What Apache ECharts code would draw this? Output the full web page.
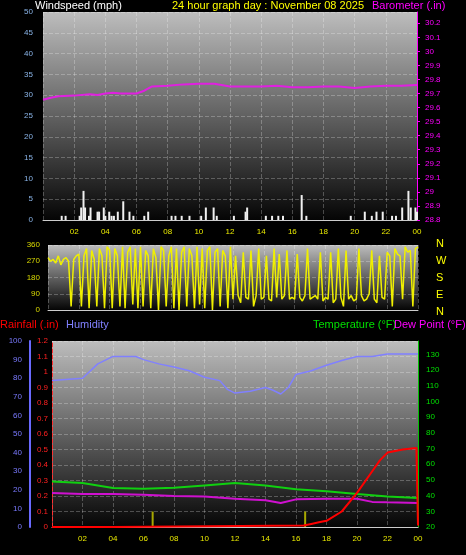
<!DOCTYPE html>
<html><head><meta charset="utf-8">
<script src="https://cdn.jsdelivr.net/npm/echarts@6/dist/echarts.min.js"></script>
<style>html,body{margin:0;padding:0;background:#000}#c{width:466px;height:555px}</style>
</head><body><div id="c"></div>
<script>
const hourTicks = ['02','04','06','08','10','12','14','16','18','20','22','00'];
const windSpeed = [[1.2,1],[1.45,1],[2.35,1],[2.45,3],[2.6,7],[2.7,3],[2.95,1],[3.05,3],[3.5,2],[3.6,2],[3.9,3],[4.0,1],[4.25,2],[4.4,1],[4.55,1],[4.8,2],[5.15,4.5],[5.55,2],[5.8,1],[6.5,1],[6.75,2],[8.25,1],[8.5,1],[8.9,1],[9.4,1],[10.15,1],[10.45,3],[10.95,3],[11.15,1],[12.25,1],[13.0,2],[13.1,3],[14.3,1],[14.7,1],[15.1,1],[15.4,1],[16.6,6],[16.9,1],[19.75,1],[20.65,2],[21.1,1],[21.4,2],[21.8,2],[22.4,1],[22.65,1],[23.05,3],[23.45,7],[23.6,3],[23.9,3],[24,2]];
const baroHours = [0,0.5,1,2,3,3.5,4,4.5,5,6,6.5,7,8,9,10,11,12,13,14,15,16,17,18,19,20,21,22,23,24];
const baroValues = [29.655,29.67,29.68,29.685,29.695,29.69,29.70,29.705,29.70,29.70,29.72,29.75,29.755,29.765,29.77,29.77,29.75,29.75,29.75,29.755,29.745,29.745,29.75,29.75,29.74,29.75,29.755,29.755,29.76];
const windDir = [290,270,280,260,300,250,280,290,270,20,280,300,
310,20,300,340,10,330,280,20,340,300,10,350,
330,10,340,300,20,350,10,320,350,30,340,10,
350,20,330,300,10,340,290,0,350,330,20,300,
350,10,340,0,320,350,20,340,300,10,350,30,
340,10,330,350,0,320,340,20,330,300,10,350,
60,300,80,40,320,70,60,330,20,80,340,60,
70,300,60,50,340,70,310,60,80,330,60,70,
60,310,70,50,80,340,60,70,80,60,320,50,
70,60,320,40,60,340,70,20,330,60,80,50,
60,340,80,50,60,90,330,60,40,300,70,60,
320,300,20,340,310,300,60,350,320,330,20,340,350];
const humHours = [0,2,3,4,5.5,6,7,8,9,10,11,11.5,12,13,14,14.5,15,15.5,16,17,18,19,20,21,22,24];
const humValues = [78.7,80,87.7,91.7,91.7,90,87.7,86,84,80.5,78.7,74,72,73,75,73.5,71.5,75,82,84,87,89.5,91.7,91.7,93,93];
const tHours = [0,2,4,6,8,10,12,14,16,18,20,22,24];
const tempValues = [49,48,44.8,44.4,45,46.5,48,46.5,44,42.7,41,39.5,38.4];
const dewHours = [0,2,4,6,8,10,12,14,15,16,18,20,21,22,24];
const dewValues = [41.6,41,41,40.5,39.7,39.5,38,37,35.3,37.6,38,38,36,35.7,35.3];
const rainHours = [0,4,4.01,16.5,17,17.5,18,19,20,21,21.5,22,23,23.9,24];
const rainValues = [0,0,0.01,0.01,0.02,0.03,0.04,0.1,0.22,0.36,0.43,0.48,0.5,0.51,0.01];
const rainRate = [[6.6,0.1],[16.6,0.1]];
const dirLabels = ['N','W','S','E','N'];

const z = (a,b)=>a.map((h,i)=>[h,b[i]]);
const windDirData = windDir.map((v,i)=>[i/6,v]);
const bg = ()=>new echarts.graphic.LinearGradient(0,0,0,1,[{offset:0,color:'#bdbdbd'},{offset:1,color:'#050505'}]);
const FF = 'Liberation Sans';
const xlab = {color:'#e8e800',fontSize:8,fontFamily:FF,formatter:v=>v===0?'':String(v%24).padStart(2,'0')};
const split = {show:true,lineStyle:{color:'rgba(255,255,255,0.25)',type:'dashed'}};
function xa(g,showLab){return {type:'value',gridIndex:g,min:0,max:24,interval:2,axisLabel:showLab?xlab:{show:false},axisLine:{show:true,lineStyle:{color:'#ccc'}},axisTick:{show:false},splitLine:split};}
const f = {fontFamily:FF,fontSize:8};
const chart = echarts.init(document.getElementById('c'));
chart.setOption({
  backgroundColor:'#000', animation:false,
  grid:[
    {left:43,right:49,top:12,height:208,show:true,backgroundColor:bg(),borderWidth:0},
    {left:48,right:48,top:245,height:65,show:true,backgroundColor:bg(),borderWidth:0},
    {left:52,right:48,top:341,height:186,show:true,backgroundColor:bg(),borderWidth:0}
  ],
  xAxis:[xa(0,true),xa(1,false),xa(2,true)],
  yAxis:[
    {type:'value',gridIndex:0,min:0,max:50,interval:5,axisLabel:Object.assign({color:'#8ab4e8',margin:10},f),axisLine:{show:false},axisTick:{show:false},splitLine:split},
    {type:'value',gridIndex:0,position:'right',min:28.8,max:30.28,interval:0.1,axisLabel:Object.assign({color:'#ff00ff',showMaxLabel:false,formatter:v=>String(+v.toFixed(1))},f),axisLine:{show:true,lineStyle:{color:'#ff00ff'}},axisTick:{show:true,length:3,lineStyle:{color:'#ff00ff'}},splitLine:{show:false}},
    {type:'value',gridIndex:1,min:0,max:360,interval:90,axisLabel:Object.assign({color:'#d8d800',margin:8},f),axisLine:{show:false},axisTick:{show:false},splitLine:split},
    {type:'value',gridIndex:2,min:0,max:1.2,interval:0.1,axisLabel:Object.assign({color:'#ff2020',margin:4,formatter:v=>String(+v.toFixed(1))},f),axisLine:{show:true,lineStyle:{color:'#ff3030',type:'dashed'}},axisTick:{show:false},splitLine:split},
    {type:'value',gridIndex:2,position:'left',offset:22,min:0,max:100,interval:10,axisLabel:Object.assign({color:'#7a7aff',margin:8},f),axisLine:{show:true,lineStyle:{color:'#6a6aff',width:2}},axisTick:{show:false},splitLine:{show:false}},
    {type:'value',gridIndex:2,position:'right',min:20,max:138.5,interval:10,axisLabel:Object.assign({color:'#00e000',showMaxLabel:false},f),axisLine:{show:true,lineStyle:{color:'#00c000'}},axisTick:{show:false},splitLine:{show:false}}
  ],
  series:[
    {type:'bar',xAxisIndex:0,yAxisIndex:0,data:windSpeed,barWidth:2,itemStyle:{color:'#f0f0f0'}},
    {type:'line',xAxisIndex:0,yAxisIndex:1,data:z(baroHours,baroValues),showSymbol:false,lineStyle:{color:'#e020e0',width:2}},
    {type:'line',xAxisIndex:1,yAxisIndex:2,data:windDirData,showSymbol:false,lineStyle:{color:'#f0f000',width:1.5}},
    {type:'line',xAxisIndex:2,yAxisIndex:4,data:z(humHours,humValues),showSymbol:false,lineStyle:{color:'#8080ff',width:1.5}},
    {type:'line',xAxisIndex:2,yAxisIndex:5,data:z(tHours,tempValues),showSymbol:false,lineStyle:{color:'#10d010',width:2}},
    {type:'line',xAxisIndex:2,yAxisIndex:5,data:z(dewHours,dewValues),showSymbol:false,lineStyle:{color:'#d010d0',width:2}},
    {type:'bar',xAxisIndex:2,yAxisIndex:3,data:rainRate,barWidth:2,itemStyle:{color:'#a8a800'}},
    {type:'line',xAxisIndex:2,yAxisIndex:3,data:z(rainHours,rainValues),showSymbol:false,lineStyle:{color:'#ff0000',width:2}}
  ],
  graphic:[
    {type:'text',left:35,top:0,style:{text:'Windspeed (mph)',fill:'#fff',font:'11px '+FF}},
    {type:'text',left:172,top:0,style:{text:'24 hour graph day : November 08 2025',fill:'#ffff00',font:'11px '+FF}},
    {type:'text',left:372,top:0,style:{text:'Barometer (.in)',fill:'#ff00ff',font:'11px '+FF}},
    {type:'text',left:0,top:319,style:{text:'Rainfall (.in)',fill:'#ff0000',font:'11px '+FF}},
    {type:'text',left:66,top:319,style:{text:'Humidity',fill:'#8080ff',font:'11px '+FF}},
    {type:'text',left:313,top:319,style:{text:'Temperature (°F)',fill:'#00e000',font:'11px '+FF}},
    {type:'text',left:394,top:319,style:{text:'Dew Point (°F)',fill:'#ff00ff',font:'11px '+FF}}
  ].concat(dirLabels.map((t,i)=>({type:'text',left:436,top:238+i*17,style:{text:t,fill:'#ffff00',font:'11px '+FF}})))
});
</script></body></html>
